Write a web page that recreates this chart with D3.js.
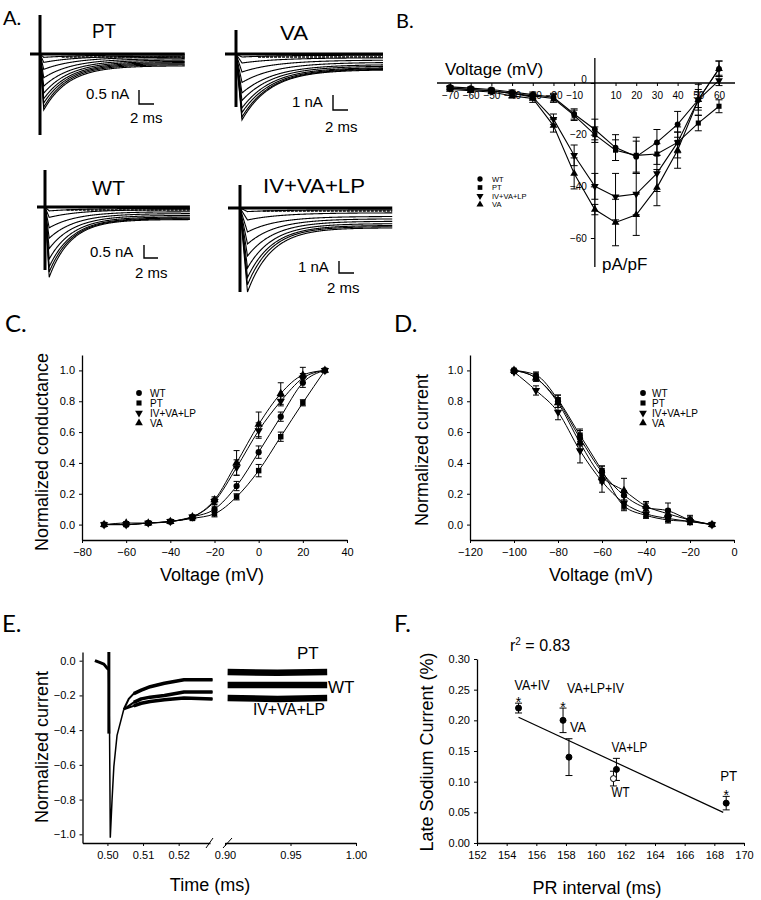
<!DOCTYPE html>
<html><head><meta charset="utf-8">
<script src="https://cdn.jsdelivr.net/npm/d3@7"></script>
<style>body{margin:0;background:#fff}svg{display:block;background:#fff}</style>
</head><body><svg id="c" width="761" height="900"></svg>
<script>
// ================= DATA =================
// Panel A: sodium current families (nA, ms)
const aNames=["PT","VA","WT","IV+VA+LP"];
const aBarNa=[0.5,1,0.5,1];
const aBarMs=[2,2,2,2];
const aPeakPT=[0.12,0.3,0.55,0.85,1.15,1.4,1.6,1.75,1.9,2.0];
const aLatePT=[0.03,0.07,0.11,0.16,0.21,0.26,0.3,0.34,0.38,0.42];
const aTauPT=[5,4.5,4.2,4,3.8,3.6,3.5,3.4,3.3,3.3];
const aPeakVA=[0.2,0.6,1.2,1.9,2.6,3.1,3.6,3.9,4.2,4.4];
const aLateVA=[0.08,0.25,0.4,0.55,0.7,0.8,0.9,0.95,1.0,1.05];
const aTauVA=[5,5,4.8,4.6,4.4,4.2,4,4,3.9,3.8];
const aPeakWT=[0.15,0.4,0.8,1.2,1.6,2.0,2.3,2.5,2.7];
const aLateWT=[0.05,0.1,0.18,0.25,0.32,0.38,0.42,0.45,0.48];
const aTauWT=[5,4.5,4,3.8,3.6,3.4,3.3,3.2,3.1];
const aPeakIV=[0.3,1,2,3,4,5,5.8,6.4,7];
const aLateIV=[0.15,0.4,0.7,0.9,1.1,1.3,1.45,1.55,1.65];
const aTauIV=[5,4.5,4,3.8,3.6,3.4,3.3,3.2,3.2];
const aRise=[0.5,0.8,0.6,1.0];
const aDur=[19.3,19.6,20.7,20.3];

// Panel B: I-V (pA/pF vs mV)
const seriesNames=["WT","PT","IV+VA+LP","VA"];
const bV=[-70,-60,-50,-40,-30,-20,-10,0,10,20,30,40,50,60];
const bWT=[-1.5,-2,-2.5,-3.5,-4.5,-5.5,-12,-18,-25,-28.5,-23,-16,-6.5,5.5];
const bPT=[-2,-2.5,-3,-4,-5,-6,-12.5,-20,-26,-28,-27.5,-23,-15.5,-9];
const bIV=[-2,-2.5,-3,-4,-5.5,-14,-28,-40,-44,-43,-35,-23,-6.5,1];
const bVA=[-2.5,-3,-3.5,-5,-6,-16.5,-35,-49,-54,-51,-40.5,-26,-6.5,5.5];
const bWTe=[0.5,0.5,0.5,0.8,1,1.5,2,4,5,6,5,5,3,3];
const bPTe=[0.5,0.5,0.5,0.8,1,1.5,2,3,4,7,4,4,3,2.5];
const bIVe=[0.5,0.5,0.5,0.8,1,2,4,5,9,8,7,6,4,2];
const bVAe=[0.5,0.5,0.5,0.8,1.5,2.5,6,2,9,8,7,7,6,3];
const bXTicks=bV;
const bYTicks=[0,-20,-40,-60];

// Panel C: activation
const cV=[-70,-60,-50,-40,-30,-20,-10,0,10,20,30];
const cWT=[0,0,0.01,0.02,0.05,0.1,0.25,0.47,0.7,0.92,1];
const cPT=[0,0,0.01,0.02,0.04,0.07,0.18,0.35,0.57,0.79,1];
const cIV=[0,0,0.01,0.02,0.05,0.15,0.37,0.61,0.8,0.95,1];
const cVA=[0,0.01,0.01,0.02,0.05,0.16,0.4,0.65,0.85,0.97,1];
const cWTe=[0,0.01,0.01,0.01,0.01,0.02,0.03,0.04,0.03,0.03,0];
const cPTe=[0,0,0.01,0.01,0.01,0.02,0.02,0.04,0.03,0.02,0];
const cIVe=[0,0.01,0.01,0.01,0.01,0.02,0.05,0.05,0.03,0.03,0];
const cVAe=[0,0.01,0.01,0.01,0.01,0.02,0.08,0.08,0.07,0.05,0];
const cXTicks=[-80,-60,-40,-20,0,20,40];
const cYTicks=[0,0.2,0.4,0.6,0.8,1.0];

// Panel D: inactivation
const dV=[-100,-90,-80,-70,-60,-50,-40,-30,-20,-10];
const dWT=[1,0.95,0.8,0.56,0.34,0.19,0.11,0.09,0.03,0];
const dPT=[1,0.97,0.81,0.58,0.35,0.12,0.06,0.03,0.02,0];
const dIV=[0.99,0.87,0.73,0.48,0.28,0.14,0.07,0.04,0.02,0];
const dVA=[1,0.95,0.79,0.53,0.31,0.22,0.12,0.07,0.03,0];
const dWTe=[0,0.02,0.04,0.05,0.04,0.03,0.03,0.05,0.03,0.01];
const dPTe=[0,0.02,0.03,0.04,0.03,0.03,0.02,0.02,0.02,0];
const dIVe=[0.01,0.03,0.05,0.08,0.07,0.04,0.02,0.02,0.02,0];
const dVAe=[0,0.02,0.03,0.05,0.04,0.08,0.03,0.03,0.02,0];
const dXTicks=[-120,-100,-80,-60,-40,-20,0];
const dYTicks=[0,0.2,0.4,0.6,0.8,1.0];

// Panel E: normalized late current traces
const eNames=["PT","WT","IV+VA+LP"];
const eT0=[0.4965,0.4978,0.4990,0.4998,0.5003,0.5006,0.5008,0.5013,0.5018,0.5027,0.5046];
const eV0=[0,-0.01,-0.02,-0.04,-0.05,-0.42,-1.02,-0.8,-0.61,-0.43,-0.28];
const eArtT=[0.5004,0.5004];
const eArtV=[0.05,-0.42];
const eT1=[0.5046,0.5060,0.5074,0.5095,0.512,0.516,0.5215,0.5295];
const eV1PT=[-0.28,-0.22,-0.19,-0.17,-0.15,-0.13,-0.11,-0.11];
const eV1WT=[-0.28,-0.26,-0.24,-0.22,-0.21,-0.2,-0.18,-0.18];
const eV1IV=[-0.28,-0.27,-0.26,-0.245,-0.235,-0.225,-0.215,-0.22];
const eT2=[0.902,0.94,0.978];
const eV2PT=[-0.065,-0.07,-0.065];
const eV2WT=[-0.14,-0.14,-0.14];
const eV2IV=[-0.215,-0.22,-0.215];
const eX1Ticks=[0.50,0.51,0.52];
const eX2Ticks=[0.90,0.95,1.00];
const eYTicks=[0,-0.2,-0.4,-0.6,-0.8,-1.0];

// Panel F: late current vs PR interval
const fNames=["VA+IV","VA+LP+IV","VA","VA+LP","WT","PT"];
const fPR=[154.8,157.8,158.2,161.4,161.2,168.8];
const fLate=[0.22,0.20,0.14,0.12,0.105,0.065];
const fErr=[0.008,0.02,0.03,0.018,0.012,0.011];
const fStar=[true,true,false,false,false,true];
const fOpen=[false,false,false,false,true,false];
const fRegX=[154.8,168.6];
const fRegY=[0.205,0.05];
const fR2="0.83";
const fXTicks=[152,154,156,158,160,162,164,166,168,170];
const fYTicks=[0,0.05,0.10,0.15,0.20,0.25,0.30];

// ================= DRAWING =================
const svg=d3.select("#c");
const FM="'Liberation Sans', Arial, Helvetica, sans-serif";
const FP="Lato, 'Open Sans', sans-serif";
function T(g,x,y,s,size,o={}){
  const t=g.append("text").attr("x",x).attr("y",y).attr("font-size",size)
    .attr("font-family",o.font||FM).attr("fill","#000").text(s);
  if(o.anchor)t.attr("text-anchor",o.anchor);
  if(o.len)t.attr("textLength",o.len).attr("lengthAdjust","spacingAndGlyphs");
  if(o.rot)t.attr("transform",`rotate(-90 ${x} ${y})`);
  return t;
}
function styleAxis(a,fs){
  a.attr("font-family",FM).attr("font-size",fs);
  a.selectAll("path.domain").attr("stroke","#000").attr("stroke-width",1.3);
  a.selectAll(".tick line").attr("stroke","#000").attr("stroke-width",1);
  a.selectAll(".tick text").attr("fill","#000");
}
const symType={"WT":d3.symbolCircle,"PT":d3.symbolSquare,"IV+VA+LP":d3.symbolTriangle,"VA":d3.symbolTriangle};
function marker(g,name,x,y,size){
  const p=g.append("path").attr("d",d3.symbol().type(symType[name]).size(size)())
   .attr("fill","#000");
  if(name==="IV+VA+LP")p.attr("transform",`translate(${x},${y}) rotate(180)`);
  else p.attr("transform",`translate(${x},${y})`);
}
function errBars(g,xs,ys,es,x,y,cap){
  xs.forEach((v,i)=>{
    if(!es[i])return;
    const X=x(v),y1=y(ys[i]-es[i]),y2=y(ys[i]+es[i]);
    g.append("line").attr("x1",X).attr("x2",X).attr("y1",y1).attr("y2",y2).attr("stroke","#000").attr("stroke-width",1);
    [y1,y2].forEach(Y=>g.append("line").attr("x1",X-cap).attr("x2",X+cap).attr("y1",Y).attr("y2",Y).attr("stroke","#000").attr("stroke-width",1));
  });
}
function legend(g,x,tx,ys,fs,msize){
  seriesNames.forEach((n,i)=>{
    marker(g,n,x,ys[i],msize);
    T(g,tx,ys[i]+fs*0.36,n,fs);
  });
}

// ---------- Panel labels ----------
T(svg,3,25,"A.",20,{font:FP});
T(svg,396,28,"B.",20,{font:FP});
T(svg,5,332,"C.",24,{font:FP});
T(svg,394,332,"D.",24,{font:FP});
T(svg,2,632,"E.",24,{font:FP});
T(svg,394,632,"F.",24,{font:FP});

// ---------- Panel A ----------
(function(){
  const g=svg.append("g");
  const sets=[
    {peak:aPeakPT,late:aLatePT,tau:aTauPT},
    {peak:aPeakVA,late:aLateVA,tau:aTauVA},
    {peak:aPeakWT,late:aLateWT,tau:aTauWT},
    {peak:aPeakIV,late:aLateIV,tau:aTauIV}
  ];
  const geo=[
    {x0:40,y0:54,ppm:7.5,ppn:28,artTop:15,artBot:135,stub:30,lab:[92,38],labW:24,bar:[139,104],na:[86,99],ms:[130,123]},
    {x0:236,y0:54,ppm:7.5,ppn:15,artTop:30,artBot:107,stub:225,lab:[280,40],labW:28,bar:[333,110],na:[292,107],ms:[325,132]},
    {x0:45,y0:207,ppm:7,ppn:26,artTop:170,artBot:270,stub:37,lab:[92,195],labW:33,bar:[144,258],na:[90,257],ms:[135,278]},
    {x0:240,y0:208,ppm:7.5,ppn:12,artTop:185,artBot:292,stub:228,lab:[263,193],labW:102,bar:[339,273],na:[298,272],ms:[327,293]}
  ];
  sets.forEach((s,k)=>{
    const G=geo[k],dur=aDur[k],tp=aRise[k];
    const x=d3.scaleLinear().domain([0,dur]).range([G.x0,G.x0+dur*G.ppm]);
    const y=d3.scaleLinear().domain([0,-1]).range([G.y0,G.y0+G.ppn]);
    const ts=d3.range(0,dur+0.0001,0.05);
    const line=d3.line().x(d=>x(d[0])).y(d=>y(d[1]));
    s.peak.forEach((A,i)=>{
      const L=s.late[i],tau=s.tau[i];
      const pts=ts.map(t=>[t,t<tp?-A*(t/tp):-((A-L)*Math.exp(-(t-tp)/tau)+L)]);
      g.append("path").attr("d",line(pts)).attr("fill","none").attr("stroke","#000").attr("stroke-width",1.1);
    });
    g.append("line").attr("x1",G.stub).attr("x2",x(dur)).attr("y1",y(0)).attr("y2",y(0)).attr("stroke","#000").attr("stroke-width",3.2);
    g.append("line").attr("x1",x(dur*0.15)).attr("x2",x(dur)).attr("y1",y(0)+3).attr("y2",y(0)+3).attr("stroke","#000").attr("stroke-width",1.6).attr("stroke-dasharray","3 1");
    g.append("line").attr("x1",G.x0).attr("x2",G.x0).attr("y1",G.artTop).attr("y2",G.artBot).attr("stroke","#000").attr("stroke-width",3);
    T(g,G.lab[0],G.lab[1],aNames[k],20,{len:G.labW});
    const bx=G.bar[0],by=G.bar[1];
    g.append("path").attr("d",`M${bx},${by-aBarNa[k]*G.ppn}L${bx},${by}L${bx+aBarMs[k]*G.ppm},${by}`)
      .attr("fill","none").attr("stroke","#000").attr("stroke-width",1.4);
    T(g,G.na[0],G.na[1],(aBarNa[k]===0.5?"0.5":"1")+" nA",15);
    T(g,G.ms[0],G.ms[1],aBarMs[k]+" ms",15);
  });
})();

// ---------- Panel B ----------
(function(){
  const g=svg.append("g");
  const x=d3.scaleLinear().domain([-70,60]).range([450,719]);
  const y=d3.scaleLinear().domain([0,-60]).range([83,238]);
  g.append("line").attr("x1",437).attr("x2",735).attr("y1",y(0)).attr("y2",y(0)).attr("stroke","#000").attr("stroke-width",1.3);
  g.append("line").attr("x1",x(0)).attr("x2",x(0)).attr("y1",58).attr("y2",267).attr("stroke","#000").attr("stroke-width",1.3);
  const ax=g.append("g").attr("transform",`translate(0,${y(0)})`)
    .call(d3.axisBottom(x).tickValues(bXTicks.filter(v=>v!==0)).tickSize(3).tickPadding(6).tickFormat(d3.format("d")));
  ax.select(".domain").remove(); styleAxis(ax,10);
  const ay=g.append("g").attr("transform",`translate(${x(0)},0)`)
    .call(d3.axisLeft(y).tickValues(bYTicks).tickSize(4).tickPadding(4).tickFormat(d3.format("d")));
  ay.select(".domain").remove(); styleAxis(ay,10);
  ay.selectAll(".tick text").filter(d=>d===0).attr("dy","-0.1em");
  const data=[bWT,bPT,bIV,bVA], errs=[bWTe,bPTe,bIVe,bVAe];
  data.forEach((arr,k)=>{
    g.append("path").attr("d",d3.line().x((d,i)=>x(bV[i])).y(d=>y(d))(arr))
      .attr("fill","none").attr("stroke","#000").attr("stroke-width",1.1);
    errBars(g,bV,arr,errs[k],x,y,3.5);
  });
  data.forEach((arr,k)=>arr.forEach((v,i)=>marker(g,seriesNames[k],x(bV[i]),y(v),26)));
  T(g,445,75,"Voltage (mV)",17);
  T(g,602,270,"pA/pF",17);
  legend(g,480,492,[179,187.5,196,204.5],7.5,22);
})();

// ---------- Panels C & D ----------
function sigPanel(cfg){
  const g=svg.append("g");
  const x=d3.scaleLinear().domain(cfg.xd).range(cfg.xr);
  const y=d3.scaleLinear().domain([-0.1,1.1]).range([540,355]);
  const ax=g.append("g").attr("transform","translate(0,540)")
    .call(d3.axisBottom(x).tickValues(cfg.xt).tickSize(3).tickSizeOuter(0).tickPadding(5).tickFormat(d3.format("d")));
  styleAxis(ax,11);
  const ay=g.append("g").attr("transform",`translate(${cfg.xr[0]},0)`)
    .call(d3.axisLeft(y).tickValues(cfg.yt).tickSize(3).tickSizeOuter(0).tickPadding(4).tickFormat(d3.format(".1f")));
  styleAxis(ay,11);
  cfg.data.forEach((arr,k)=>{
    g.append("path").attr("d",d3.line().x((d,i)=>x(cfg.v[i])).y(d=>y(d)).curve(d3.curveMonotoneX)(arr))
      .attr("fill","none").attr("stroke","#000").attr("stroke-width",1);
    errBars(g,cfg.v,arr,cfg.err[k],x,y,3);
  });
  cfg.data.forEach((arr,k)=>arr.forEach((v,i)=>marker(g,seriesNames[k],x(cfg.v[i]),y(v),30)));
  T(g,cfg.xlab[0],581,"Voltage (mV)",18,{anchor:"middle"});
  T(g,cfg.ylab[0],cfg.ylab[1],cfg.ytitle,18,{anchor:"middle",rot:true});
  legend(g,cfg.leg[0],cfg.leg[1],[393,403,413,423],10,26);
}
sigPanel({xd:[-80,40],xr:[82,347],xt:cXTicks,yt:cYTicks,v:cV,data:[cWT,cPT,cIV,cVA],err:[cWTe,cPTe,cIVe,cVAe],
  xlab:[212],ylab:[48,452],ytitle:"Normalized conductance",leg:[139,150]});
sigPanel({xd:[-120,0],xr:[470,734],xt:dXTicks,yt:dYTicks,v:dV,data:[dWT,dPT,dIV,dVA],err:[dWTe,dPTe,dIVe,dVAe],
  xlab:[601],ylab:[428,450],ytitle:"Normalized current",leg:[643,652]});

// ---------- Panel E ----------
(function(){
  const g=svg.append("g");
  const y=d3.scaleLinear().domain([0.05,-1.05]).range([652,843]);
  const x1=d3.scaleLinear().domain([0.493,0.5288]).range([82.5,210]);
  const x2=d3.scaleLinear().domain([0.9,1.0]).range([225,356]);
  const ax1=g.append("g").attr("transform","translate(0,843)")
    .call(d3.axisBottom(x1).tickValues(eX1Ticks).tickSize(3).tickSizeOuter(0).tickPadding(5).tickFormat(d3.format(".2f")));
  styleAxis(ax1,11);
  const ax2=g.append("g").attr("transform","translate(0,843)")
    .call(d3.axisBottom(x2).tickValues(eX2Ticks).tickSize(3).tickSizeOuter(0).tickPadding(5).tickFormat(d3.format(".2f")));
  styleAxis(ax2,11);
  const ay=g.append("g").attr("transform","translate(82.5,0)")
    .call(d3.axisLeft(y).tickValues(eYTicks).tickSize(3).tickSizeOuter(0).tickPadding(4).tickFormat(d3.format(".1f")));
  styleAxis(ay,11);
  g.append("line").attr("x1",206).attr("y1",848).attr("x2",213).attr("y2",838).attr("stroke","#000");
  g.append("line").attr("x1",223).attr("y1",848).attr("x2",232).attr("y2",838).attr("stroke","#000");
  const l1=d3.line().x(d=>x1(d[0])).y(d=>y(d[1]));
  const l2=d3.line().x(d=>x2(d[0])).y(d=>y(d[1]));
  g.append("path").attr("d",l1(eT0.map((t,i)=>[t,eV0[i]]))).attr("fill","none").attr("stroke","#000").attr("stroke-width",1.5);
  g.append("path").attr("d",l1(eT0.slice(0,5).map((t,i)=>[t,eV0[i]]))).attr("fill","none").attr("stroke","#000").attr("stroke-width",3).attr("stroke-linejoin","round");
  g.append("path").attr("d",l1(eArtT.map((t,i)=>[t,eArtV[i]]))).attr("fill","none").attr("stroke","#000").attr("stroke-width",3);
  [eV1PT,eV1WT,eV1IV].forEach(arr=>{
    const pts=eT1.map((t,i)=>[t,arr[i]]);
    g.append("path").attr("d",l1(pts)).attr("fill","none").attr("stroke","#000").attr("stroke-width",2);
    g.append("path").attr("d",l1(pts.slice(2))).attr("fill","none").attr("stroke","#000").attr("stroke-width",3.5).attr("stroke-linejoin","round");
  });
  [eV2PT,eV2WT,eV2IV].forEach(arr=>{
    g.append("path").attr("d",l2(eT2.map((t,i)=>[t,arr[i]]))).attr("fill","none").attr("stroke","#000").attr("stroke-width",6.5);
  });
  T(g,297,659,eNames[0],17);
  T(g,328,693,eNames[1],17);
  T(g,253,715,eNames[2],17,{len:72});
  T(g,210,891,"Time (ms)",18,{anchor:"middle"});
  T(g,48,747,"Normalized current",18,{anchor:"middle",rot:true});
})();

// ---------- Panel F ----------
(function(){
  const g=svg.append("g");
  const x=d3.scaleLinear().domain([152,170]).range([477,744]);
  const y=d3.scaleLinear().domain([0,0.3]).range([843,659]);
  const ax=g.append("g").attr("transform","translate(0,843)")
    .call(d3.axisBottom(x).tickValues(fXTicks).tickSize(3).tickSizeOuter(0).tickPadding(5).tickFormat(d3.format("d")));
  styleAxis(ax,11);
  const ay=g.append("g").attr("transform","translate(477,0)")
    .call(d3.axisLeft(y).tickValues(fYTicks).tickSize(3).tickSizeOuter(0).tickPadding(4).tickFormat(d3.format(".2f")));
  styleAxis(ay,11);
  g.append("line").attr("x1",x(fRegX[0])).attr("y1",y(fRegY[0])).attr("x2",x(fRegX[1])).attr("y2",y(fRegY[1]))
    .attr("stroke","#000").attr("stroke-width",1.2);
  errBars(g,fPR,fLate,fErr,x,y,3.5);
  fPR.forEach((v,i)=>{
    g.append("circle").attr("cx",x(v)).attr("cy",y(fLate[i])).attr("r",3)
      .attr("fill",fOpen[i]?"#fff":"#000").attr("stroke","#000").attr("stroke-width",1);
  });
  // label offsets (px) relative to each point: dx, dy, width
  const lab=[[-4,-18,35],[4,-27,57],[1,-25,16],[-5,-17,36],[-2,18,18],[-6,-22,17]];
  fPR.forEach((v,i)=>{
    const X=x(v),Y=y(fLate[i]);
    T(g,X+lab[i][0],Y+lab[i][1],fNames[i],15,{len:lab[i][2]});
  });
  fPR.forEach((v,i)=>{
    if(!fStar[i])return;
    const X=x(v),Yt=y(fLate[i]+fErr[i]);
    T(g,X,Yt+4,"*",14,{anchor:"middle"});
  });
  const r=T(g,510,651,"r",16);
  r.append("tspan").attr("font-size",10).attr("dy",-6).text("2");
  r.append("tspan").attr("dy",6).text(" = "+fR2);
  T(g,597,894,"PR interval (ms)",18,{anchor:"middle"});
  T(g,433,752,"Late Sodium Current (%)",18,{anchor:"middle",rot:true});
})();
</script></body></html>
